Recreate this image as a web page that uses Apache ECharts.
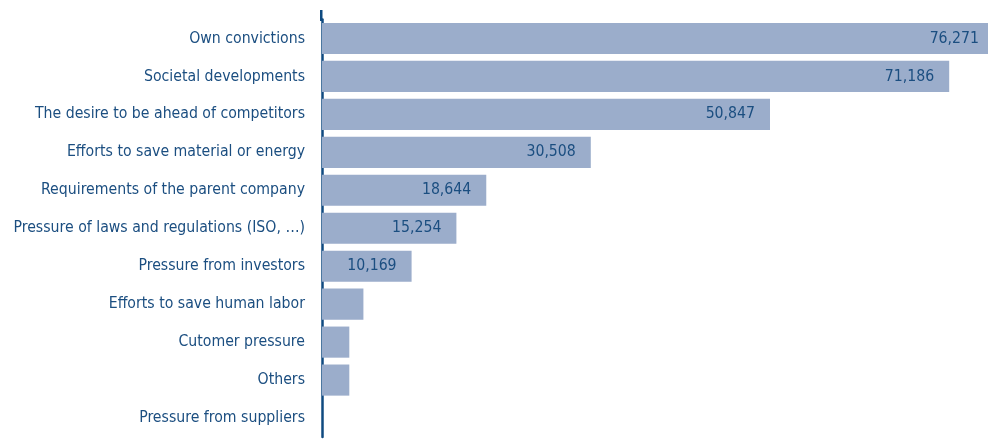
<!DOCTYPE html>
<html><head><meta charset="utf-8">
<script src="https://cdn.jsdelivr.net/npm/echarts@6/dist/echarts.min.js"></script>
<style>html,body{margin:0;padding:0;background:#fff}#c{width:988px;height:439px}</style>
</head><body><div id="c"></div>
<script>
const categories = [
  "Own convictions",
  "Societal developments",
  "The desire to be ahead of competitors",
  "Efforts to save material or energy",
  "Requirements of the parent company",
  "Pressure of laws and regulations (ISO, …)",
  "Pressure from investors",
  "Efforts to save human labor",
  "Cutomer pressure",
  "Others",
  "Pressure from suppliers"
];
const values = [76271, 71186, 50847, 30508, 18644, 15254, 10169, 4700, 3100, 3100, 0];
const showLabel = [true, true, true, true, true, true, true, false, false, false, false];

const FONT = '"Liberation Sans Narrow", "DejaVu Sans Condensed", "Open Sans", sans-serif';
const TXT = '#1b4e80';
const chart = echarts.init(document.getElementById('c'), null, {renderer: 'canvas'});
chart.setOption({
  animation: false,
  grid: {left: 322, right: -6, top: 19.5, bottom: 2, containLabel: false, outerBoundsMode: 'none'},
  xAxis: {type: 'value', min: 0, max: 76271, show: false},
  yAxis: {
    type: 'category', data: categories, inverse: true,
    axisLine: {show: true, lineStyle: {color: '#0f4a80', width: 2.5}},
    axisTick: {show: false},
    axisLabel: {color: TXT, fontFamily: FONT, fontSize: 15.7, margin: 17, padding: [9, 0, 0, 0]}
  },
  series: [{
    type: 'bar', data: values.map((v, i) => ({value: v, label: {show: showLabel[i]}})),
    barCategoryGap: '18%',
    itemStyle: {color: '#9badcb'},
    label: {
      position: 'insideRight', distance: 15, color: TXT, fontFamily: FONT, fontSize: 15.7,
      padding: [8, 0, 0, 0],
      formatter: p => p.value.toLocaleString('en-US')
    }
  }],
  graphic: [{type: 'line', shape: {x1: 321.25, y1: 10, x2: 321.25, y2: 21}, style: {stroke: '#0f4a80', lineWidth: 2.5}}]
});
</script></body></html>
